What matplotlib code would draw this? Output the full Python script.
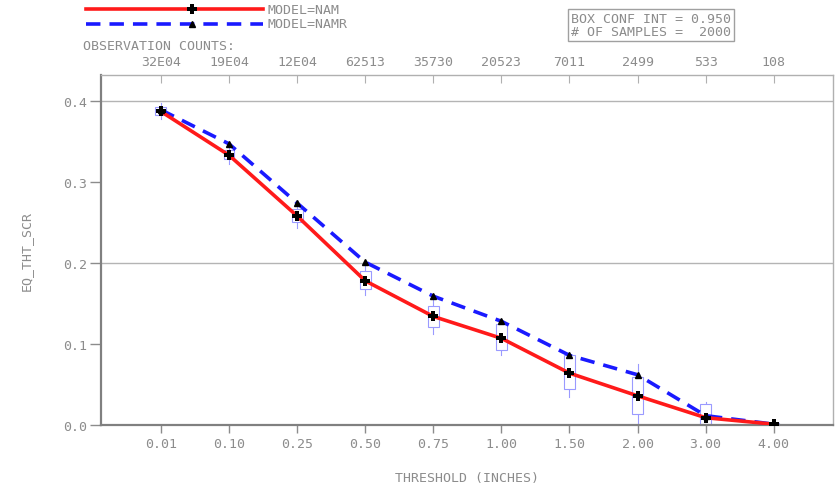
import matplotlib.pyplot as plt
import numpy as np
from matplotlib.patches import Rectangle

thresholds = ['0.01', '0.10', '0.25', '0.50', '0.75', '1.00', '1.50', '2.00', '3.00', '4.00']
counts = ['32E04', '19E04', '12E04', '62513', '35730', '20523', '7011', '2499', '533', '108']
nam = [0.387, 0.333, 0.258, 0.178, 0.134, 0.107, 0.064, 0.036, 0.009, 0.001]
namr = [0.389, 0.347, 0.274, 0.201, 0.159, 0.128, 0.086, 0.062, 0.0115, 0.001]
box_lo = [0.383, 0.328, 0.250, 0.168, 0.121, 0.093, 0.044, 0.014, 0.001, 0.000]
box_hi = [0.392, 0.340, 0.266, 0.190, 0.147, 0.125, 0.086, 0.059, 0.026, 0.002]
wsk_lo = [0.378, 0.322, 0.243, 0.160, 0.112, 0.086, 0.034, 0.001, 0.000, 0.000]
wsk_hi = [0.397, 0.345, 0.272, 0.197, 0.155, 0.131, 0.090, 0.075, 0.028, 0.003]

gray = '#8c8c8c'
plt.rcParams['font.family'] = 'DejaVu Sans Mono'
plt.rcParams['font.size'] = 9.5

fig = plt.figure(figsize=(8.39, 4.89), dpi=100)
ax = fig.add_axes([101/839, 1-426/489, 732/839, 350/489])

x = np.arange(len(thresholds))

# confidence boxes
bw = 0.16
for i in range(len(x)):
    ax.plot([x[i], x[i]], [wsk_lo[i], wsk_hi[i]], color='#9a9aff', lw=0.8, zorder=2)
    ax.add_patch(Rectangle((x[i]-bw/2, box_lo[i]), bw, box_hi[i]-box_lo[i],
                           facecolor='white', edgecolor='#9a9aff', lw=0.8, zorder=2))

ax.plot(x, namr, color='#1a1aff', lw=2.6, ls=(0, (4, 2.5)), zorder=3)
ax.plot(x, namr, ls='none', marker='^', ms=4, color='black', zorder=5)
ax.plot(x, nam, color='#ff1a1a', lw=2.6, zorder=4)
ax.plot(x, nam, ls='none', marker='P', ms=7, color='black', mew=0, zorder=6)

ax.set_xlim(-0.88, 9.87)
ax.set_ylim(0, 0.432)
ax.set_xticks(x)
ax.set_xticklabels(thresholds)
ax.set_yticks([0.0, 0.1, 0.2, 0.3, 0.4])
ax.set_yticklabels(['0.0', '0.1', '0.2', '0.3', '0.4'])
ax.tick_params(axis='both', colors=gray, labelcolor=gray, length=6, width=1)
ax.tick_params(axis='x', pad=3)
ax.tick_params(axis='y', pad=2, length=8)

for s in ['left', 'bottom']:
    ax.spines[s].set_color('#808080')
    ax.spines[s].set_linewidth(1.6)
for s in ['top', 'right']:
    ax.spines[s].set_color('#b0b0b0')
    ax.spines[s].set_linewidth(1.0)

for yv in [0.2, 0.4]:
    ax.axhline(yv, color='#b4b4b4', lw=1.0, zorder=1)

# observation counts on top
top = ax.secondary_xaxis('top')
top.set_xticks(x)
top.set_xticklabels(counts)
top.tick_params(direction='in', length=6, colors='#b0b0b0', labelcolor=gray, pad=5)
top.spines['top'].set_visible(False)

ax.set_xlabel('THRESHOLD (INCHES)', color=gray, labelpad=15)
ax.set_ylabel('EQ_THT_SCR', color=gray, labelpad=22)

# legend
fig.lines.append(plt.Line2D([86/839, 263/839], [1-10/489, 1-10/489], color='#ff1a1a', lw=2.6,
                            transform=fig.transFigure))
fig.lines.append(plt.Line2D([192/839], [1-10/489], ls='none', marker='P', ms=7, mew=0,
                            color='black', transform=fig.transFigure))
fig.lines.append(plt.Line2D([86/839, 263/839], [1-25/489, 1-25/489], color='#1a1aff', lw=2.6,
                            ls=(0, (4, 2.5)), transform=fig.transFigure))
fig.lines.append(plt.Line2D([192/839], [1-25/489], ls='none', marker='^', ms=4,
                            color='black', transform=fig.transFigure))
fig.text(267/839, 1-10/489, 'MODEL=NAM', color=gray, va='center', ha='left')
fig.text(267/839, 1-25/489, 'MODEL=NAMR', color=gray, va='center', ha='left')
fig.text(83/839, 1-47/489, 'OBSERVATION COUNTS:', color=gray, va='center', ha='left')

fig.text(571/839, 1-26/489, 'BOX CONF INT = 0.950\n# OF SAMPLES =  2000', color=gray,
         va='center', ha='left', linespacing=1.0,
         bbox=dict(boxstyle='square,pad=0.25', facecolor='white', edgecolor='#a0a0a0', lw=1))

fig.savefig('out.png', dpi=100)
